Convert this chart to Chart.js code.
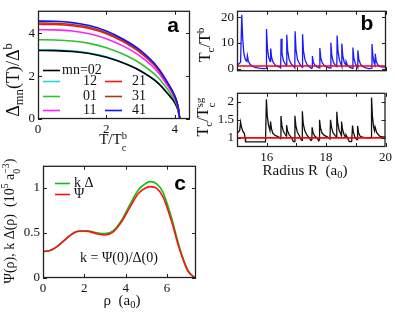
<!DOCTYPE html>
<html>
<head>
<meta charset="utf-8">
<script src="https://cdn.jsdelivr.net/npm/chart.js@4.4.1/dist/chart.umd.min.js"></script>
<style>
  html, body { margin: 0; padding: 0; background: #fff; }
  #page { position: relative; width: 395px; height: 316px; overflow: hidden; }
  canvas { position: absolute; }
  .lbl { position: absolute; font-family: "Liberation Serif", serif; font-size: 15px; color: #111;
         white-space: nowrap; transform: translate(-50%, -50%); line-height: 1; }
  .rot { transform: translate(-50%, -50%) rotate(-90deg); }
  .tag { position: absolute; font-family: "Liberation Sans", Arial, sans-serif; font-weight: bold;
         font-size: 21px; transform: translate(-50%, -50%); line-height: 1; }
  sub { font-size: 70%; vertical-align: -0.35em; line-height: 0; }
  sup { font-size: 70%; vertical-align: 0.55em; line-height: 0; }
  .ss { display: inline-flex; flex-direction: column; font-size: 70%; vertical-align: 0.45em; line-height: 1.1; }
</style>
</head>
<body>
<div id="page">
  <canvas id="chartA" width="200" height="150" style="left:0;top:0"></canvas>
  <canvas id="chartB1" width="195" height="82" style="left:200px;top:0"></canvas>
  <canvas id="chartB2" width="195" height="85" style="left:200px;top:82px"></canvas>
  <canvas id="chartC" width="200" height="161" style="left:0;top:155px"></canvas>

  <div class="lbl rot" style="left:13px;top:80px;font-size:18px">&Delta;<sub>mn</sub>(T)/&Delta;<sup>b</sup></div>
  <div class="lbl" style="left:113px;top:142px">T/T<span class="ss"><span>b</span><span>c</span></span></div>
  <div class="lbl rot" style="left:205px;top:45px;font-size:16px">T<sub>c</sub>/T<sup>b</sup></div>
  <div class="lbl rot" style="left:205px;top:117px;font-size:16px">T<sub>c</sub>/T<span class="ss"><span>sg</span><span>c</span></span></div>
  <div class="lbl" style="left:305px;top:170px">Radius R&nbsp;&nbsp;(a<sub>0</sub>)</div>
  <div class="lbl rot" style="left:12px;top:221px;font-size:14px">&Psi;(&rho;), k &Delta;(&rho;)&nbsp;&nbsp;(10<sup>5</sup> a<span class="ss"><span>&minus;3</span><span>0</span></span>)</div>
  <div class="lbl" style="left:122px;top:300px">&rho;&nbsp;&nbsp;(a<sub>0</sub>)</div>
  <div class="tag" style="left:173px;top:24px">a</div>
  <div class="tag" style="left:367px;top:22px">b</div>
  <div class="tag" style="left:180px;top:182px">c</div>
</div>
<script>
// panel a: gap vs temperature
const tempA = [0, 0.5, 1, 1.5, 2, 2.5, 3, 3.5, 3.8, 4.0, 4.1, 4.16, 4.45];
const gap02 = [3.20, 3.19, 3.15, 3.06, 2.88, 2.61, 2.24, 1.70, 1.18, 0.77, 0.41, 0, 0];
const gap12 = [3.23, 3.22, 3.18, 3.08, 2.91, 2.63, 2.26, 1.71, 1.19, 0.77, 0.42, 0, 0];
const gap01 = [3.70, 3.69, 3.64, 3.53, 3.33, 3.02, 2.59, 1.96, 1.37, 0.89, 0.48, 0, 0];
const gap11 = [4.17, 4.16, 4.11, 3.98, 3.75, 3.40, 2.92, 2.21, 1.54, 1.00, 0.54, 0, 0];
const gap21 = [4.42, 4.41, 4.35, 4.22, 3.98, 3.60, 3.09, 2.34, 1.64, 1.06, 0.57, 0, 0];
const gap31 = [4.48, 4.47, 4.41, 4.28, 4.03, 3.65, 3.14, 2.37, 1.66, 1.08, 0.58, 0, 0];
const gap41 = [4.57, 4.56, 4.50, 4.36, 4.11, 3.72, 3.20, 2.42, 1.69, 1.10, 0.59, 0, 0];

// panel b top: Tc / Tc^b vs radius
const radiusTop = [15.03, 15.12, 15.16, 15.19, 15.23, 15.28, 15.33, 15.35, 15.38, 15.43, 15.5, 15.6, 15.75, 15.9,
  15.975, 15.99, 16.02, 16.06, 16.11, 16.13, 16.16, 16.21, 16.28, 16.36, 16.44, 16.465, 16.48, 16.51, 16.56, 16.62,
  16.66, 16.67, 16.7, 16.75, 16.82, 16.9, 16.94, 16.95, 16.98, 17.03, 17.1, 17.18, 17.19, 17.2, 17.23, 17.28, 17.35,
  17.43, 17.5, 17.52, 17.53, 17.56, 17.62, 17.7, 17.765, 17.78, 17.81, 17.86, 17.94, 18.04, 18.13, 18.15, 18.18,
  18.23, 18.3, 18.35, 18.36, 18.39, 18.44, 18.5, 18.515, 18.52, 18.55, 18.6, 18.65, 18.66, 18.7, 18.78, 18.87, 18.89,
  18.92, 18.97, 19.03, 19.05, 19.06, 19.09, 19.14, 19.22, 19.32, 19.43, 19.52, 19.53, 19.56, 19.6, 19.63, 19.64,
  19.67, 19.72, 19.8, 19.9, 20.0];
const ratioTop = [1.5, 2.5, 21, 12, 6, 3.5, 2.8, 5, 3, 1.8, 1.0, 0.5, 0.2, 0.0,
  0.1, 15.4, 8, 4.5, 2.8, 7.8, 4.5, 2.5, 1.4, 0.9, 0.6, 0.3, 11.6, 6, 3, 1.8,
  1.2, 13.2, 7, 3.5, 1.8, 0.9, 0.3, 14.5, 7.5, 3.5, 1.8, 0.7, 0.4, 13.4, 7, 3.5, 1.6,
  0.6, 0.1, 0.3, 4.9, 2.5, 1.3, 0.6, 0.3, 8.0, 4.2, 2.2, 1.1, 0.5, 0.2, 10.1, 5.2,
  2.6, 1.3, 0.8, 12.9, 6.6, 3.2, 1.4, 0.8, 9.8, 5, 2.4, 1.4, 2.8, 1.4, 0.6, 0.1, 8.2,
  4.2, 2.0, 0.9, 0.4, 7.1, 3.6, 1.8, 0.8, 0.3, 0.0, 0.2, 9.6, 4.8, 2.4, 1.5, 5.8,
  3, 1.5, 0.8, 0.6, 0.6];

// panel b bottom: Tc / Tc^sg vs radius
const radiusBottom = [15.03, 15.09, 15.12, 15.15, 15.2, 15.25, 15.27, 15.29, 15.5, 15.7, 15.96, 15.99, 16.02, 16.06,
  16.11, 16.13, 16.16, 16.21, 16.3, 16.4, 16.46, 16.48, 16.51, 16.56, 16.62, 16.66, 16.67, 16.7, 16.76, 16.84, 16.9,
  16.94, 16.95, 16.98, 17.03, 17.1, 17.16, 17.19, 17.2, 17.23, 17.28, 17.35, 17.43, 17.49, 17.52, 17.53, 17.56,
  17.62, 17.7, 17.75, 17.77, 17.78, 17.81, 17.86, 17.94, 18.04, 18.13, 18.15, 18.18, 18.23, 18.3, 18.35, 18.36,
  18.39, 18.44, 18.5, 18.515, 18.52, 18.55, 18.6, 18.65, 18.67, 18.72, 18.78, 18.86, 18.89, 18.92, 18.97, 19.03,
  19.05, 19.06, 19.09, 19.14, 19.22, 19.32, 19.43, 19.52, 19.53, 19.56, 19.6, 19.63, 19.65, 19.7, 19.8, 19.9, 20.0];
const ratioBottom = [1.15, 1.2, 1.43, 1.3, 1.18, 1.12, 1.0, 0.89, 0.89, 0.89, 0.89, 2.06, 1.6, 1.35,
  1.2, 1.45, 1.25, 1.12, 1.06, 1.03, 0.98, 1.6, 1.35, 1.18, 1.1, 1.05, 1.35, 1.2, 1.08, 1.0, 0.9,
  0.9, 1.61, 1.35, 1.16, 1.06, 0.95, 0.93, 1.73, 1.4, 1.2, 1.08, 1.0, 0.93, 0.95, 1.29, 1.14,
  1.05, 1.0, 0.92, 0.95, 1.5, 1.28, 1.14, 1.07, 1.03, 0.97, 1.5, 1.3, 1.15, 1.07, 1.02, 1.72,
  1.42, 1.2, 1.1, 1.05, 1.45, 1.25, 1.1, 1.02, 1.08, 1.0, 0.9, 0.9, 1.34, 1.15, 1.02, 0.95,
  0.95, 1.33, 1.15, 1.05, 1.02, 1.01, 1.0, 1.0, 2.11, 1.6, 1.3, 1.2, 1.3, 1.15, 1.05, 1.03, 1.03];

const refRadius = [15, 20];
const refLevel = [1, 1];

// panel c: pair wave function and scaled gap
const rhoC = [0, 0.4, 0.8, 1.2, 1.6, 1.9, 2.2, 2.6, 3.0, 3.4, 3.8, 4.2, 4.6, 5.0, 5.2, 5.5, 5.8, 6.2, 6.6, 7.0, 7.3, 7.4];
const psiC = [0.29, 0.31, 0.37, 0.45, 0.51, 0.52, 0.515, 0.49, 0.475, 0.51, 0.62, 0.78, 0.93, 1.0, 1.01, 0.99, 0.9, 0.64, 0.32, 0.08, 0.01, 0];
const kDeltaC = [0.29, 0.31, 0.37, 0.45, 0.51, 0.52, 0.52, 0.5, 0.49, 0.525, 0.64, 0.81, 0.97, 1.05, 1.065, 1.04, 0.95, 0.68, 0.34, 0.09, 0.01, 0];

const SERIF = '"Liberation Serif", serif';
const zip = (xs, ys) => xs.map((x, i) => ({ x: x, y: ys[i] }));

// frame round the plot area with inward tick marks on all four sides
const frameTicks = {
    id: 'frameTicks',
    afterDatasetsDraw(chart) {
        const { ctx, chartArea: a, scales } = chart;
        ctx.save();
        ctx.strokeStyle = '#222';
        ctx.lineWidth = 1;
        ctx.beginPath();
        scales.x.ticks.forEach(t => {
            const px = Math.round(scales.x.getPixelForValue(t.value)) + 0.5;
            ctx.moveTo(px, a.bottom); ctx.lineTo(px, a.bottom - 4);
            ctx.moveTo(px, a.top); ctx.lineTo(px, a.top + 4);
        });
        scales.y.ticks.forEach(t => {
            const py = Math.round(scales.y.getPixelForValue(t.value)) + 0.5;
            ctx.moveTo(a.left, py); ctx.lineTo(a.left + 4, py);
            ctx.moveTo(a.right, py); ctx.lineTo(a.right - 4, py);
        });
        ctx.stroke();
        ctx.lineWidth = 1.3;
        ctx.strokeRect(a.left + 0.5, a.top + 0.5, a.width - 1, a.height - 1);
        ctx.restore();
    }
};

// hand-placed legend (line sample + label)
function legendPlugin(items) {
    return {
        id: 'handLegend',
        afterDatasetsDraw(chart) {
            const ctx = chart.ctx;
            ctx.save();
            ctx.font = '14px ' + SERIF;
            ctx.textBaseline = 'middle';
            ctx.fillStyle = '#111';
            items.forEach(it => {
                ctx.strokeStyle = it.color;
                ctx.lineWidth = 1.6;
                ctx.beginPath();
                ctx.moveTo(it.x0, it.y + 0.5);
                ctx.lineTo(it.x1, it.y + 0.5);
                ctx.stroke();
                ctx.fillText(it.text, it.tx, it.y);
            });
            ctx.restore();
        }
    };
}

function textPlugin(items) {
    return {
        id: 'freeText',
        afterDatasetsDraw(chart) {
            const ctx = chart.ctx;
            ctx.save();
            ctx.font = '14px ' + SERIF;
            ctx.fillStyle = '#111';
            ctx.textAlign = 'center';
            ctx.textBaseline = 'middle';
            items.forEach(it => ctx.fillText(it.text, it.x, it.y));
            ctx.restore();
        }
    };
}

function makeChart(id, datasets, opt, plugins) {
    const ctx = document.getElementById(id).getContext('2d');
    return new Chart(ctx, {
        type: 'line',
        data: { datasets: datasets },
        options: {
            responsive: false,
            animation: false,
            devicePixelRatio: 1,
            layout: { padding: opt.padding },
            elements: { point: { radius: 0 } },
            plugins: { legend: { display: false }, tooltip: { enabled: false } },
            scales: {
                x: {
                    type: 'linear',
                    min: opt.xMin, max: opt.xMax,
                    grid: { display: false, drawTicks: false },
                    border: { display: false },
                    ticks: {
                        display: opt.xLabels !== false,
                        stepSize: opt.xStep,
                        includeBounds: false,
                        padding: 3,
                        color: '#111',
                        font: { family: SERIF, size: 13 },
                        maxRotation: 0,
                        autoSkip: false,
                        callback: opt.xFormat || (v => String(v))
                    },
                    afterFit: s => { s.height = opt.xHeight; }
                },
                y: {
                    min: opt.yMin, max: opt.yMax,
                    grid: { display: false, drawTicks: false },
                    border: { display: false },
                    ticks: {
                        stepSize: opt.yStep,
                        includeBounds: false,
                        padding: 3,
                        color: '#111',
                        font: { family: SERIF, size: 13 },
                        autoSkip: false,
                        callback: v => String(v)
                    },
                    afterFit: s => { s.width = opt.yWidth; }
                }
            }
        },
        plugins: [frameTicks].concat(plugins || [])
    });
}

function curve(xs, ys, color, width, smooth) {
    return {
        data: zip(xs, ys),
        borderColor: color,
        backgroundColor: color,
        borderWidth: width,
        fill: false,
        tension: 0,
        cubicInterpolationMode: smooth ? 'monotone' : 'default'
    };
}

// panel a
makeChart('chartA', [
    curve(tempA, gap41, '#1010ff', 1.6, true),
    curve(tempA, gap31, '#a83a1a', 1.6, true),
    curve(tempA, gap21, '#ff1010', 1.6, true),
    curve(tempA, gap11, '#ff20ff', 1.6, true),
    curve(tempA, gap01, '#30c030', 1.6, true),
    curve(tempA, gap02, '#000000', 1.6, true),
    curve(tempA, gap12, '#20d8d8', 1.6, true)
], {
    padding: { left: 0, right: 10, top: 5, bottom: 13 },
    xMin: 0, xMax: 4.45, xStep: 2, xHeight: 18,
    yMin: 0, yMax: 5.05, yStep: 2, yWidth: 38
}, [legendPlugin([
    { text: 'mn=02', color: '#000000', x0: 43, x1: 60, y: 70, tx: 62 },
    { text: '12', color: '#20d8d8', x0: 43, x1: 60, y: 81, tx: 83 },
    { text: '01', color: '#30c030', x0: 43, x1: 60, y: 96, tx: 83 },
    { text: '11', color: '#ff20ff', x0: 43, x1: 60, y: 110, tx: 83 },
    { text: '21', color: '#ff1010', x0: 105, x1: 122, y: 81, tx: 132 },
    { text: '31', color: '#a83a1a', x0: 105, x1: 122, y: 96, tx: 132 },
    { text: '41', color: '#1010ff', x0: 105, x1: 122, y: 110, tx: 132 }
])]);

// panel b, top
makeChart('chartB1', [
    curve(refRadius, refLevel, '#ff0000', 1.6, false),
    curve(radiusTop, ratioTop, '#1a1aff', 1.3, false)
], {
    padding: { left: 0, right: 9, top: 6, bottom: 2 },
    xMin: 15, xMax: 20, xStep: 1, xHeight: 0, xLabels: false,
    yMin: -1, yMax: 22.5, yStep: 10, yWidth: 37
});

// panel b, bottom
makeChart('chartB2', [
    curve(refRadius, refLevel, '#ff0000', 1.6, false),
    curve(radiusBottom, ratioBottom, '#111111', 1.3, false)
], {
    padding: { left: 0, right: 9, top: 4, bottom: 2 },
    xMin: 15, xMax: 20, xStep: 1, xHeight: 18,
    xFormat: v => (v % 2 === 0 ? String(v) : ''),
    yMin: 0.75, yMax: 2.24, yStep: 0.5, yWidth: 37
});

// panel c
makeChart('chartC', [
    curve(rhoC, psiC, '#ff1010', 1.6, true),
    curve(rhoC, kDeltaC, '#10c010', 1.6, true)
], {
    padding: { left: 0, right: 4, top: 10, bottom: 20 },
    xMin: 0, xMax: 7.4, xStep: 2, xHeight: 18,
    yMin: 0, yMax: 1.24, yStep: 0.5, yWidth: 43
}, [
    legendPlugin([
        { text: 'k \u0394', color: '#10c010', x0: 55, x1: 70, y: 28, tx: 74 },
        { text: '\u03A8', color: '#ff1010', x0: 55, x1: 70, y: 39, tx: 74 }
    ]),
    textPlugin([{ text: 'k = \u03A8(0)/\u0394(0)', x: 119, y: 103 }])
]);
</script>
</body>
</html>
